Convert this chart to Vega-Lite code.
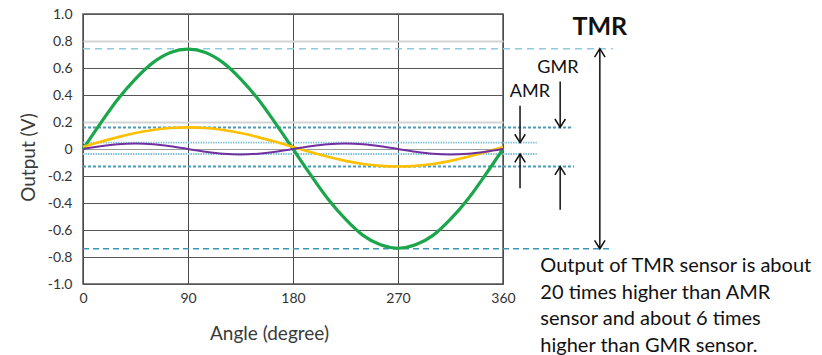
{
  "$schema": "https://vega.github.io/schema/vega-lite/v6.json",
  "width": 420,
  "height": 270,
  "autosize": {"type": "none"},
  "padding": {"left": 83, "top": 14, "right": 319, "bottom": 71},
  "background": "white",
  "config": {
    "view": {"stroke": "#555", "strokeWidth": 1.5},
    "font": "Lato",
    "axis": {"labelFont": "Lato", "titleFont": "Lato", "labelColor": "#333", "titleColor": "#3a3a3a", "labelFontSize": 14, "titleFontSize": 19, "titleFontWeight": "normal", "ticks": false, "domain": false, "labelOverlap": false}
  },
  "datasets": {
    "curves": [
      {"angle": 0, "sensor": "TMR", "v": 0}, {"angle": 15, "sensor": "TMR", "v": 0.19}, {"angle": 30, "sensor": "TMR", "v": 0.37}, {"angle": 45, "sensor": "TMR", "v": 0.52}, {"angle": 60, "sensor": "TMR", "v": 0.64}, {"angle": 75, "sensor": "TMR", "v": 0.715}, {"angle": 90, "sensor": "TMR", "v": 0.74}, {"angle": 105, "sensor": "TMR", "v": 0.715}, {"angle": 120, "sensor": "TMR", "v": 0.64}, {"angle": 135, "sensor": "TMR", "v": 0.52}, {"angle": 150, "sensor": "TMR", "v": 0.37}, {"angle": 165, "sensor": "TMR", "v": 0.19}, {"angle": 180, "sensor": "TMR", "v": 0}, {"angle": 195, "sensor": "TMR", "v": -0.19}, {"angle": 210, "sensor": "TMR", "v": -0.37}, {"angle": 225, "sensor": "TMR", "v": -0.52}, {"angle": 240, "sensor": "TMR", "v": -0.64}, {"angle": 255, "sensor": "TMR", "v": -0.71}, {"angle": 270, "sensor": "TMR", "v": -0.735}, {"angle": 285, "sensor": "TMR", "v": -0.71}, {"angle": 300, "sensor": "TMR", "v": -0.64}, {"angle": 315, "sensor": "TMR", "v": -0.52}, {"angle": 330, "sensor": "TMR", "v": -0.37}, {"angle": 345, "sensor": "TMR", "v": -0.19}, {"angle": 360, "sensor": "TMR", "v": 0},
      {"angle": 0, "sensor": "GMR", "v": 0.015}, {"angle": 15, "sensor": "GMR", "v": 0.053}, {"angle": 30, "sensor": "GMR", "v": 0.088}, {"angle": 45, "sensor": "GMR", "v": 0.118}, {"angle": 60, "sensor": "GMR", "v": 0.141}, {"angle": 75, "sensor": "GMR", "v": 0.155}, {"angle": 90, "sensor": "GMR", "v": 0.16}, {"angle": 105, "sensor": "GMR", "v": 0.155}, {"angle": 120, "sensor": "GMR", "v": 0.141}, {"angle": 135, "sensor": "GMR", "v": 0.118}, {"angle": 150, "sensor": "GMR", "v": 0.088}, {"angle": 165, "sensor": "GMR", "v": 0.053}, {"angle": 180, "sensor": "GMR", "v": 0.015}, {"angle": 195, "sensor": "GMR", "v": -0.023}, {"angle": 210, "sensor": "GMR", "v": -0.058}, {"angle": 225, "sensor": "GMR", "v": -0.088}, {"angle": 240, "sensor": "GMR", "v": -0.111}, {"angle": 255, "sensor": "GMR", "v": -0.125}, {"angle": 270, "sensor": "GMR", "v": -0.13}, {"angle": 285, "sensor": "GMR", "v": -0.125}, {"angle": 300, "sensor": "GMR", "v": -0.111}, {"angle": 315, "sensor": "GMR", "v": -0.088}, {"angle": 330, "sensor": "GMR", "v": -0.058}, {"angle": 345, "sensor": "GMR", "v": -0.023}, {"angle": 360, "sensor": "GMR", "v": 0.015},
      {"angle": 0, "sensor": "AMR", "v": 0}, {"angle": 15, "sensor": "AMR", "v": 0.02}, {"angle": 30, "sensor": "AMR", "v": 0.035}, {"angle": 45, "sensor": "AMR", "v": 0.04}, {"angle": 60, "sensor": "AMR", "v": 0.035}, {"angle": 75, "sensor": "AMR", "v": 0.02}, {"angle": 90, "sensor": "AMR", "v": 0}, {"angle": 105, "sensor": "AMR", "v": -0.02}, {"angle": 120, "sensor": "AMR", "v": -0.035}, {"angle": 135, "sensor": "AMR", "v": -0.04}, {"angle": 150, "sensor": "AMR", "v": -0.035}, {"angle": 165, "sensor": "AMR", "v": -0.02}, {"angle": 180, "sensor": "AMR", "v": 0}, {"angle": 195, "sensor": "AMR", "v": 0.02}, {"angle": 210, "sensor": "AMR", "v": 0.035}, {"angle": 225, "sensor": "AMR", "v": 0.04}, {"angle": 240, "sensor": "AMR", "v": 0.035}, {"angle": 255, "sensor": "AMR", "v": 0.02}, {"angle": 270, "sensor": "AMR", "v": 0}, {"angle": 285, "sensor": "AMR", "v": -0.02}, {"angle": 300, "sensor": "AMR", "v": -0.035}, {"angle": 315, "sensor": "AMR", "v": -0.04}, {"angle": 330, "sensor": "AMR", "v": -0.035}, {"angle": 345, "sensor": "AMR", "v": -0.02}, {"angle": 360, "sensor": "AMR", "v": 0}
    ],
    "levels": [
      {"name": "TMR top", "v": 0.743, "x0": 0, "x1": 454},
      {"name": "TMR bottom", "v": -0.739, "x0": 0, "x1": 454},
      {"name": "GMR", "v": 0.16, "x0": 0, "x1": 419},
      {"name": "GMR", "v": -0.13, "x0": 0, "x1": 421},
      {"name": "AMR", "v": 0.047, "x0": 0, "x1": 389},
      {"name": "AMR", "v": -0.037, "x0": 0, "x1": 389}
    ],
    "arrows": [
      {"x": 443, "from": -0.74, "to": 0.74},
      {"x": 409, "from": 0.5, "to": 0.16},
      {"x": 409, "from": -0.45, "to": -0.13},
      {"x": 374.6, "from": 0.32, "to": 0.047},
      {"x": 374.6, "from": -0.29, "to": -0.037}
    ],
    "heads": [
      {"x": 443, "y": 0.743, "dir": "up"},
      {"x": 443, "y": -0.739, "dir": "down"},
      {"x": 409, "y": 0.16, "dir": "down"},
      {"x": 409, "y": -0.13, "dir": "up"},
      {"x": 374.6, "y": 0.047, "dir": "down"},
      {"x": 374.6, "y": -0.037, "dir": "up"}
    ],
    "labels": [
      {"x": 407, "y": 0.6, "text": "GMR"},
      {"x": 383, "y": 0.422, "text": "AMR"}
    ]
  },
  "layer": [
    {
      "data": {"name": "levels"},
      "transform": [{"filter": "datum.name == 'TMR top'"}],
      "mark": {"type": "rule", "clip": false, "color": "#8fcbdd", "strokeDash": [7, 5], "strokeWidth": 1.5},
      "encoding": {
        "x": {"field": "x0", "type": "quantitative", "scale": {"domain": [0, 360], "nice": false, "zero": false}, "axis": {"values": [0, 90, 180, 270, 360], "tickCount": 20, "grid": true, "gridColor": "#4a4a4a", "gridWidth": 1, "labelPadding": 7, "labelOverlap": false, "title": "Angle (degree)", "titleX": 186, "titleY": 49, "titleBaseline": "middle", "labelFlush": false}},
        "x2": {"field": "x1"},
        "y": {"field": "v", "type": "quantitative", "scale": {"domain": [-1, 1], "nice": false, "zero": false}, "axis": {"values": [-1, -0.8, -0.6, -0.4, -0.2, 0, 0.2, 0.4, 0.6, 0.8, 1], "tickCount": 20, "labelOverlap": false, "grid": true, "gridColor": {"condition": [{"test": "datum.value == 0.8 || datum.value == 0.2", "value": "#d4d4d4"}, {"test": "datum.value == 0", "value": "#999"}], "value": "#555"}, "gridWidth": {"condition": {"test": "datum.value == 0.8 || datum.value == 0.2", "value": 2}, "value": 1}, "labelPadding": 11, "labelExpr": "datum.value == 0 ? '0' : replace(format(datum.value, '.1f'), '\u2212', '-')", "title": "Output (V)", "titleX": -55, "titleY": 143, "titleAlign": "center", "titleBaseline": "middle"}}
      }
    },
    {
      "data": {"name": "levels"},
      "transform": [{"filter": "datum.name == 'TMR bottom'"}],
      "mark": {"type": "rule", "clip": false, "color": "#3a97b6", "strokeDash": [6, 4], "strokeWidth": 1.6},
      "encoding": {
        "x": {"field": "x0", "type": "quantitative"},
        "x2": {"field": "x1"},
        "y": {"field": "v", "type": "quantitative"}
      }
    },
    {
      "data": {"name": "levels"},
      "transform": [{"filter": "datum.name == 'GMR'"}],
      "mark": {"type": "rule", "clip": false, "color": "#4a9db8", "strokeDash": [3, 2], "strokeWidth": 2},
      "encoding": {
        "x": {"field": "x0", "type": "quantitative"},
        "x2": {"field": "x1"},
        "y": {"field": "v", "type": "quantitative"}
      }
    },
    {
      "data": {"name": "levels"},
      "transform": [{"filter": "datum.name == 'AMR'"}],
      "mark": {"type": "rule", "clip": false, "color": "#86c3d8", "strokeDash": [1.5, 1], "strokeWidth": 1.8},
      "encoding": {
        "x": {"field": "x0", "type": "quantitative"},
        "x2": {"field": "x1"},
        "y": {"field": "v", "type": "quantitative"}
      }
    },
    {
      "data": {"name": "curves"},
      "transform": [{"filter": "datum.sensor == 'TMR'"}],
      "mark": {"type": "line", "interpolate": "monotone", "color": "#1ba64b", "strokeWidth": 3.2},
      "encoding": {
        "x": {"field": "angle", "type": "quantitative"},
        "y": {"field": "v", "type": "quantitative"}
      }
    },
    {
      "data": {"name": "curves"},
      "transform": [{"filter": "datum.sensor == 'GMR'"}],
      "mark": {"type": "line", "interpolate": "monotone", "color": "#ffc000", "strokeWidth": 2.6},
      "encoding": {
        "x": {"field": "angle", "type": "quantitative"},
        "y": {"field": "v", "type": "quantitative"}
      }
    },
    {
      "data": {"name": "curves"},
      "transform": [{"filter": "datum.sensor == 'AMR'"}],
      "mark": {"type": "line", "interpolate": "monotone", "color": "#7030a0", "strokeWidth": 2},
      "encoding": {
        "x": {"field": "angle", "type": "quantitative"},
        "y": {"field": "v", "type": "quantitative"}
      }
    },
    {
      "data": {"name": "arrows"},
      "mark": {"type": "rule", "clip": false, "color": "#111", "strokeWidth": 1.5},
      "encoding": {
        "x": {"field": "x", "type": "quantitative"},
        "y": {"field": "from", "type": "quantitative"},
        "y2": {"field": "to"}
      }
    },
    {
      "data": {"name": "heads"},
      "mark": {"type": "point", "filled": false, "clip": false, "color": "#111", "strokeWidth": 1.5, "opacity": 1, "size": 110},
      "encoding": {
        "x": {"field": "x", "type": "quantitative"},
        "y": {"field": "y", "type": "quantitative"},
        "shape": {"field": "dir", "type": "nominal", "scale": {"domain": ["up", "down"], "range": ["M-1,1.6L0,0L1,1.6", "M-1,-1.6L0,0L1,-1.6"]}, "legend": null}
      }
    },
    {
      "data": {"name": "labels"},
      "mark": {"type": "text", "clip": false, "fontSize": 18, "font": "Lato", "color": "#111", "align": "center", "baseline": "middle"},
      "encoding": {
        "x": {"field": "x", "type": "quantitative"},
        "y": {"field": "y", "type": "quantitative"},
        "text": {"field": "text"}
      }
    },
    {
      "data": {"values": [{"t": "TMR"}]},
      "mark": {"type": "text", "clip": false, "fontSize": 25, "fontWeight": "bold", "font": "Lato", "color": "#111", "align": "center", "baseline": "middle"},
      "encoding": {
        "x": {"datum": 443},
        "y": {"datum": 0.904},
        "text": {"field": "t"}
      }
    },
    {
      "data": {"values": [{"t": "Output of TMR sensor is about|20 times higher than AMR|sensor and about 6 times|higher than GMR sensor."}]},
      "mark": {"type": "text", "clip": false, "fontSize": 20, "font": "Lato", "color": "#111", "align": "left", "baseline": "alphabetic", "lineBreak": "|", "lineHeight": 26.7},
      "encoding": {
        "x": {"datum": 392},
        "y": {"datum": -0.911},
        "text": {"field": "t"}
      }
    }
  ]
}
